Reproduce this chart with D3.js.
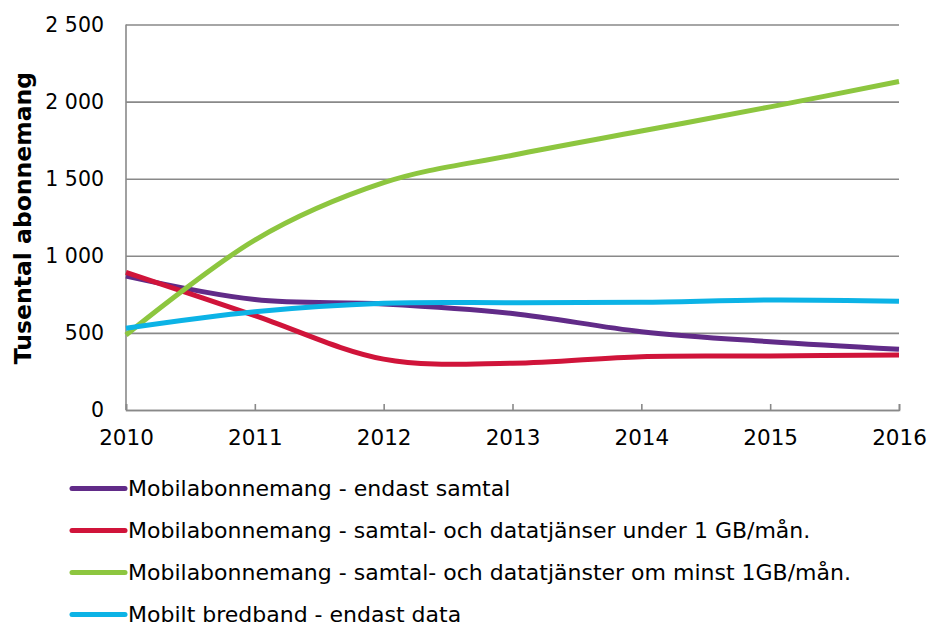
<!DOCTYPE html>
<html>
<head>
<meta charset="utf-8">
<script src="https://cdn.jsdelivr.net/npm/d3@7"></script>
<style>
  body { margin: 0; background: #fff; }
  text { font-family: "DejaVu Sans", Verdana, sans-serif; fill: #000; }
</style>
</head>
<body>
<div id="chart"></div>
<script>
// data (tusental abonnemang)
let years = [2010, 2011, 2012, 2013, 2014, 2015, 2016];
let endastSamtal = [868, 716, 688, 626, 508, 443, 394];
let under1GB = [893, 612, 330, 303, 346, 350, 357];
let minst1GB = [486, 1102, 1474, 1652, 1809, 1966, 2130];
let bredband = [530, 637, 692, 696, 698, 713, 705];
let seriesNames = [
    'Mobilabonnemang - endast samtal',
    'Mobilabonnemang - samtal- och datatjänser under 1 GB/mån.',
    'Mobilabonnemang - samtal- och datatjänster om minst 1GB/mån.',
    'Mobilt bredband - endast data'
];
let seriesColors = ['#612b88', '#d0143a', '#8dc63f', '#0cb3e6'];
let yTicks = [0, 500, 1000, 1500, 2000, 2500];
let yLabel = 'Tusental abonnemang';

let series = [endastSamtal, under1GB, minst1GB, bredband].map((vals, i) => ({
    name: seriesNames[i],
    color: seriesColors[i],
    values: vals.map((v, j) => ({year: years[j], value: v}))
}));

let config = {
    svg: {width: 929, height: 627},
    plot: {x: 126, y: 24.5, width: 773, height: 385.5}
};

let svg = d3.select('#chart')
    .append('svg')
        .attr('width', config.svg.width)
        .attr('height', config.svg.height);

let plot = svg.append('g')
    .attr('transform', `translate(${config.plot.x},${config.plot.y})`);

let x = d3.scaleLinear()
    .domain([years[0], years[years.length - 1]])
    .range([0, config.plot.width]);

let y = d3.scaleLinear()
    .domain([0, 2500])
    .range([config.plot.height, 0]);

let fmt = v => d3.format(',')(v).replace(',', ' ');

// horizontal grid lines + y labels
let yAxis = g => g
    .call(d3.axisLeft(y).tickValues(yTicks).tickSize(-config.plot.width).tickFormat(fmt))
    .call(g => g.select('.domain').remove())
    .call(g => g.selectAll('.tick line')
        .attr('stroke', '#898989')
        .attr('stroke-width', 1.6))
    .call(g => g.selectAll('.tick text')
        .attr('x', -22)
        .attr('font-size', 20.5));

let xAxis = g => g
    .attr('transform', `translate(0,${config.plot.height})`)
    .call(d3.axisBottom(x).tickValues(years).tickSize(-6).tickFormat(d3.format('d')))
    .call(g => g.select('.domain')
        .attr('stroke', '#898989')
        .attr('stroke-width', 1.6))
    .call(g => g.selectAll('.tick line')
        .attr('stroke', '#898989')
        .attr('stroke-width', 1.6))
    .call(g => g.selectAll('.tick text')
        .attr('y', 20)
        .attr('font-size', 21.5));

plot.append('g').call(yAxis);

// left axis line
plot.append('line')
    .attr('x1', 0).attr('x2', 0)
    .attr('y1', 0).attr('y2', config.plot.height)
    .attr('stroke', '#898989')
    .attr('stroke-width', 1.6);

plot.append('g').call(xAxis);

let line = d3.line()
    .x(d => x(d.year))
    .y(d => y(d.value))
    .curve(d3.curveCardinal);

plot.append('g')
    .selectAll('path')
    .data(series)
    .join('path')
        .attr('fill', 'none')
        .attr('stroke', d => d.color)
        .attr('stroke-width', 5)
        .attr('d', d => line(d.values));

svg.append('text')
    .attr('transform', 'translate(31,218) rotate(-90)')
    .attr('text-anchor', 'middle')
    .attr('font-size', 23.5)
    .attr('font-weight', 'bold')
    .text(yLabel);

// legend
let legend = svg.append('g')
    .selectAll('g')
    .data(series)
    .join('g')
        .attr('transform', (d, i) => `translate(70,${488.5 + i * 42})`);

legend.append('line')
    .attr('x1', 2).attr('x2', 55)
    .attr('stroke', d => d.color)
    .attr('stroke-width', 5)
    .attr('stroke-linecap', 'round');

legend.append('text')
    .attr('x', 58)
    .attr('dy', '0.36em')
    .attr('font-size', 22)
    .text(d => d.name);
</script>
</body>
</html>
